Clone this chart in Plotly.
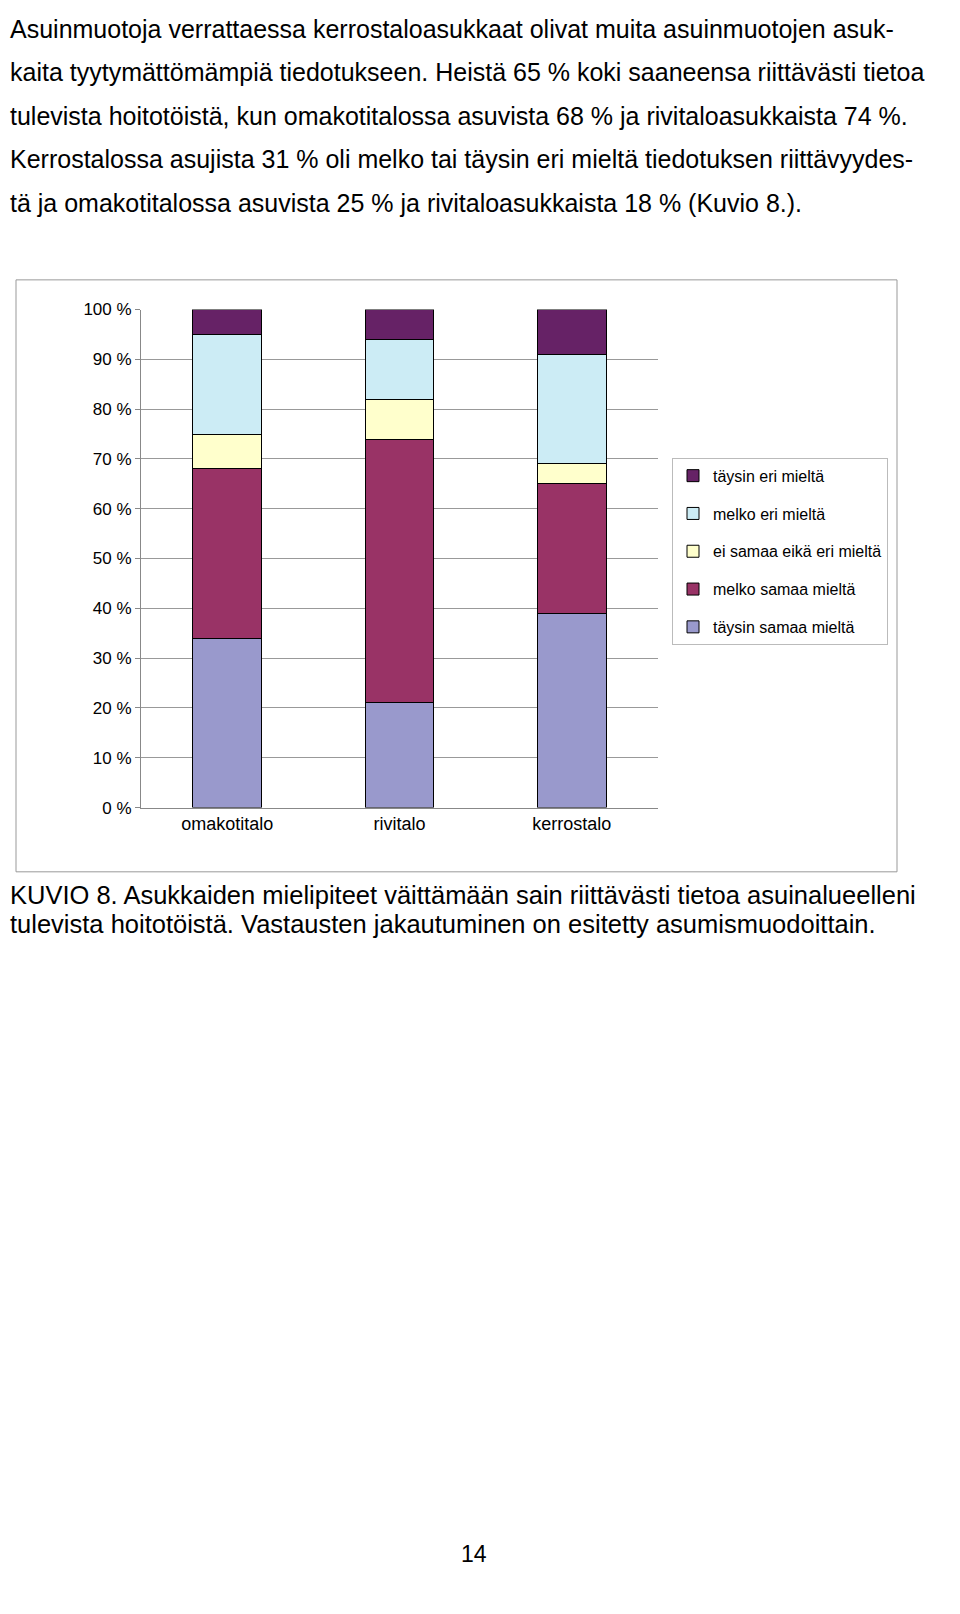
import plotly.graph_objects as go

W, H = 960, 1614

categories = ["omakotitalo", "rivitalo", "kerrostalo"]
series = ["täysin samaa mieltä", "melko samaa mieltä", "ei samaa eikä eri mieltä",
          "melko eri mieltä", "täysin eri mieltä"]
values = [
    [34, 21, 39],
    [34, 53, 26],
    [7, 8, 4],
    [20, 12, 22],
    [5, 6, 9],
]
colors = ["#9999CC", "#993366", "#FFFFCC", "#CCECF5", "#662266"]

body_lines = [
    "Asuinmuotoja verrattaessa kerrostaloasukkaat olivat muita asuinmuotojen asuk-",
    "kaita tyytymättömämpiä tiedotukseen. Heistä 65 % koki saaneensa riittävästi tietoa",
    "tulevista hoitotöistä, kun omakotitalossa asuvista 68 % ja rivitaloasukkaista 74 %.",
    "Kerrostalossa asujista 31 % oli melko tai täysin eri mieltä tiedotuksen riittävyydes-",
    "tä ja omakotitalossa asuvista 25 % ja rivitaloasukkaista 18 % (Kuvio 8.).",
]
caption_lines = [
    "KUVIO 8. Asukkaiden mielipiteet väittämään sain riittävästi tietoa asuinalueelleni",
    "tulevista hoitotöistä. Vastausten jakautuminen on esitetty asumismuodoittain.",
]

def px(x):
    return x / W

def py(y):
    return 1 - y / H

fig = go.Figure()
for i, s in enumerate(series):
    fig.add_trace(go.Bar(
        x=categories, y=values[i], name=s, marker_color=colors[i],
        marker_line=dict(color="black", width=1), width=0.4, legendgroup=s,
        legendrank=len(series) - i,
    ))

fig.update_layout(
    width=W, height=H, barmode="stack", paper_bgcolor="white", plot_bgcolor="white",
    margin=dict(l=0, r=0, t=0, b=0),
    font=dict(family="Liberation Sans, Arial", color="black"),
    xaxis=dict(domain=[px(133), px(650)], showline=True, linecolor="#888",
               ticks="outside", ticklen=0, tickfont=dict(size=18)),
    yaxis=dict(domain=[py(800), py(296)], range=[0, 100], dtick=10,
               ticksuffix=" %", showgrid=True, gridcolor="#999", gridwidth=1,
               showline=True, linecolor="#888", ticks="outside", ticklen=5,
               tickcolor="#888", tickfont=dict(size=17), fixedrange=True),
    legend=dict(x=px(664), y=py(446), xanchor="left", yanchor="top",
                traceorder="grouped", tracegroupgap=14,
                bordercolor="#bbb", borderwidth=1, font=dict(size=16),
                itemwidth=30),
)

fig.add_shape(type="rect", xref="paper", yref="paper",
              x0=px(8), x1=px(889), y0=py(865), y1=py(266),
              line=dict(color="#999", width=1))

for k, line in enumerate(body_lines):
    fig.add_annotation(text=line, xref="paper", yref="paper", x=0, y=py(12 + 44 * k),
                       xanchor="left", yanchor="middle", showarrow=False,
                       font=dict(size=25))
for k, line in enumerate(caption_lines):
    fig.add_annotation(text=line, xref="paper", yref="paper", x=0, y=py(888 + 30 * k),
                       xanchor="left", yanchor="middle", showarrow=False,
                       font=dict(size=25.5))
fig.add_annotation(text="14", xref="paper", yref="paper", x=px(466), y=py(1555),
                   xanchor="center", yanchor="middle", showarrow=False,
                   font=dict(size=23))

fig.write_html("out.html")
